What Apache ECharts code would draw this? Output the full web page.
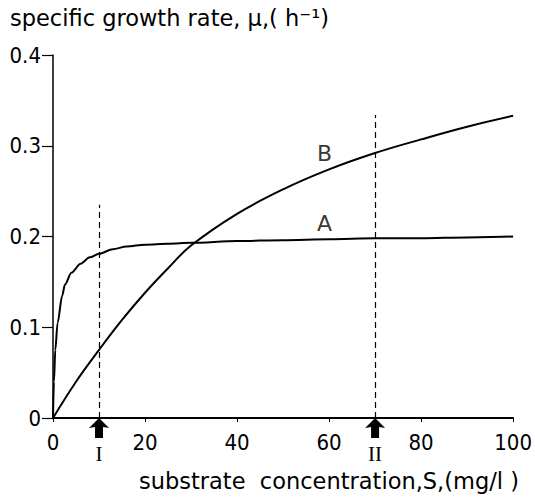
<!DOCTYPE html>
<html>
<head>
<meta charset="utf-8">
<script src="https://cdn.jsdelivr.net/npm/echarts@6/dist/echarts.min.js"></script>
<style>
html,body{margin:0;padding:0;background:#fff;}
#chart{width:535px;height:497px;}
</style>
</head>
<body>
<div id="chart"></div>
<script>
// Curve A (steep, saturates at ~0.2)
var sA  = [0, 0.2, 0.5, 1, 2, 2.6, 4, 6, 8, 10, 13, 16, 20, 25, 30, 40, 50, 60, 70, 80, 90, 100];
var muA = [0, 0.04, 0.075, 0.105, 0.135, 0.147, 0.160, 0.170, 0.177, 0.181, 0.186, 0.189, 0.191, 0.192, 0.193, 0.195, 0.196, 0.197, 0.198, 0.198, 0.199, 0.200];
// Curve B (slow rise)
var sB  = [0, 5, 10, 15, 20, 25, 30, 40, 50, 60, 70, 80, 90, 100];
var muB = [0, 0.040, 0.075, 0.108, 0.138, 0.165, 0.190, 0.225, 0.252, 0.274, 0.292, 0.307, 0.321, 0.333];
// Curve labels
var curveNames = ['A', 'B'];
var curveLabelS = [59, 59];
var curveLabelMu = [0.214, 0.292];
// Dashed marker lines and arrows
var markerS = [10, 70];
var markerTop = [0.235, 0.334];
var markerLabels = ['I', 'II'];
// Axis ticks
var xTicks = [0, 20, 40, 60, 80, 100];
var yTicks = [0, 0.1, 0.2, 0.3, 0.4];

var nameFont = 'DejaVu Sans';
var tickFont = '"Liberation Sans Narrow", "DejaVu Sans Condensed", sans-serif';

function pairs(xs, ys){ return xs.map(function(x,i){ return [x, ys[i]]; }); }

var chart = echarts.init(document.getElementById('chart'), null, {renderer:'svg'});
var option = {
  animation: false,
  backgroundColor: '#fff',
  grid: {left: 53, right: 18, top: 55, bottom: 79},
  xAxis: {
    type: 'value', min: 0, max: 100, interval: 20,
    axisLine: {show: true, lineStyle: {color: '#000', width: 2}},
    axisTick: {show: true, length: 4, inside: false, lineStyle: {color: '#000', width: 1}},
    axisLabel: {color: '#000', fontFamily: tickFont, fontSize: 22, margin: 13,
      formatter: function(v){ return xTicks.indexOf(v) >= 0 ? String(v) : ''; }},
    splitLine: {show: false}
  },
  yAxis: {
    type: 'value', min: 0, max: 0.4, interval: 0.1,
    axisLine: {show: true, lineStyle: {color: '#000', width: 1.5}},
    axisTick: {show: true, length: 11, lineStyle: {color: '#000', width: 1.2}},
    axisLabel: {color: '#000', fontFamily: tickFont, fontSize: 22, margin: 12,
      formatter: function(v){
        var r = Math.round(v*10)/10;
        return yTicks.indexOf(r) >= 0 ? (r === 0 ? '0' : r.toFixed(1)) : '';
      }},
    splitLine: {show: false}
  },
  graphic: [
    {type: 'text', left: 10, top: 6,
     style: {text: 'specific growth rate, μ,( h⁻¹)', font: '22.5px ' + nameFont, fill: '#000'}},
    {type: 'text', right: 16, top: 469,
     style: {text: 'substrate  concentration,S,(mg/l )', font: '22.5px ' + nameFont, fill: '#000'}}
  ],
  series: [
    {
      name: 'A', type: 'line', smooth: 0.3, smoothMonotone: 'x', showSymbol: false,
      data: pairs(sA, muA),
      lineStyle: {color: '#000', width: 2}
    },
    {
      name: 'B', type: 'line', smooth: 0.4, showSymbol: false,
      data: pairs(sB, muB),
      lineStyle: {color: '#000', width: 2},
      markLine: {
        silent: true, symbol: 'none',
        lineStyle: {color: '#000', type: [6, 4], width: 1.2, opacity: 1},
        label: {show: false},
        data: markerS.map(function(s, i){ return [{coord: [s, 0]}, {coord: [s, markerTop[i]]}]; })
      }
    },
    {
      name: 'curveLabels', type: 'scatter', symbolSize: 0,
      data: curveLabelS.map(function(s, i){ return {value: [s, curveLabelMu[i]], name: curveNames[i]}; }),
      label: {show: true, position: 'inside', formatter: '{b}', color: '#000',
        fontFamily: 'DejaVu Sans', fontSize: 22}
    },
    {
      name: 'arrows', type: 'scatter',
      symbol: 'path://M10,0 L20,10 L14,9 L14,20 L6,20 L6,9 L0,10 Z',
      symbolSize: [20, 20], symbolOffset: [0, 10],
      itemStyle: {color: '#000', opacity: 1},
      data: markerS.map(function(s, i){ return {value: [s, 0], name: markerLabels[i]}; }),
      label: {show: true, position: 'bottom', distance: -8, offset: [0, 13], formatter: '{b}',
        color: '#000', fontFamily: 'Liberation Serif', fontSize: 21},
      z: 5
    }
  ]
};
chart.setOption(option);
</script>
</body>
</html>
